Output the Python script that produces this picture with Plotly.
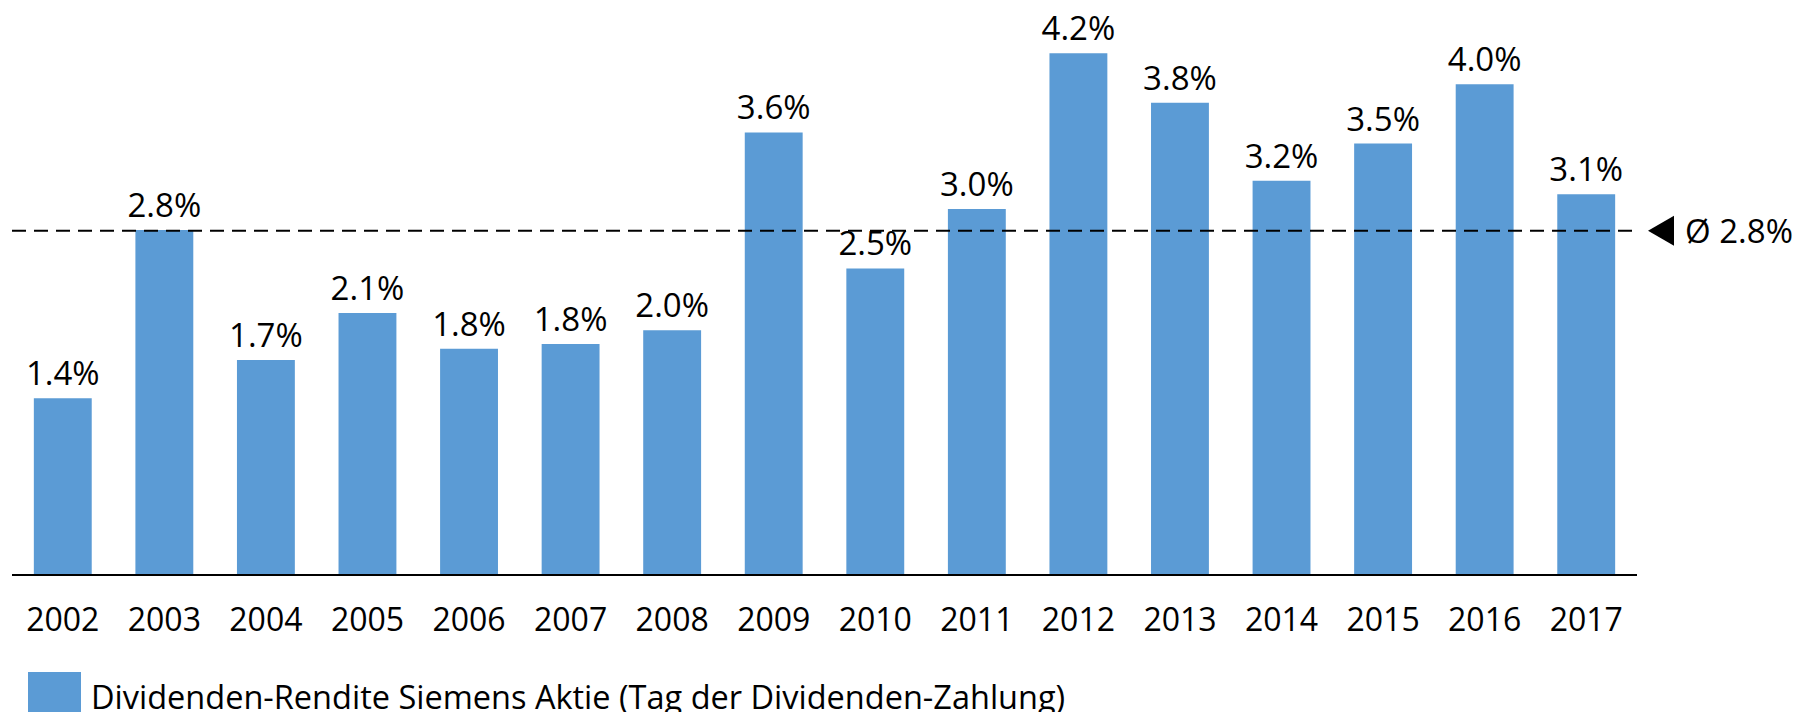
import numpy as np
import plotly.graph_objects as go

years = ["2002", "2003", "2004", "2005", "2006", "2007", "2008", "2009",
         "2010", "2011", "2012", "2013", "2014", "2015", "2016", "2017"]
yield_pct = [1.42, 2.78, 1.73, 2.11, 1.82, 1.86, 1.97, 3.57,
             2.47, 2.95, 4.21, 3.81, 3.18, 3.48, 3.96, 3.07]
labels = ["1.4%", "2.8%", "1.7%", "2.1%", "1.8%", "1.8%", "2.0%", "3.6%",
          "2.5%", "3.0%", "4.2%", "3.8%", "3.2%", "3.5%", "4.0%", "3.1%"]
series_name = "Dividenden-Rendite Siemens Aktie (Tag der Dividenden-Zahlung)"

avg = float(np.mean(yield_pct))

# page is 1813x712; the html body has an 8px margin
OFF = 8
PAGE_W, PAGE_H = 1813, 712
W, H = PAGE_W - OFF, PAGE_H - OFF

# plot area in page pixels
PL, PR, PT, PB = 12, 1637, 10, 574
ml = PL - OFF
mr = PAGE_W - PR
mt = PT - OFF
mb = PAGE_H - PB
plot_w = PR - PL
plot_h = PB - PT
px_per_unit = 123.7
ymax = plot_h / px_per_unit

BLUE = "#5B9BD5"
FONT = "Open Sans"

fig = go.Figure()
fig.add_trace(go.Bar(
    x=years, y=yield_pct, text=labels, textposition="outside",
    textfont=dict(family=FONT, size=33, color="black"),
    constraintext="none", cliponaxis=False,
    marker=dict(color=BLUE, line=dict(width=0)),
    showlegend=False, name=series_name, hoverinfo="skip",
))

def px_x(p):
    return (p - PL) / plot_w

def px_y(p):
    return (PB - p) / plot_h

# average dashed line
fig.add_shape(type="line", xref="paper", yref="y", x0=0, x1=1, y0=avg, y1=avg,
              line=dict(color="black", width=2, dash="14px,8px"), layer="above")

# triangle marker
dy = 15 / px_per_unit
tx0, tx1 = px_x(1648), px_x(1674)
fig.add_shape(type="path", xref="paper", yref="y",
              path=f"M {tx1} {avg + dy} L {tx0} {avg} L {tx1} {avg - dy} Z",
              fillcolor="black", line=dict(width=0))
fig.add_annotation(xref="paper", yref="y", x=px_x(1683), y=avg,
                   text=f"Ø {avg:.1f}%", showarrow=False, xanchor="left", yanchor="middle",
                   font=dict(family=FONT, size=33, color="black"))

# legend (manual)
fig.add_shape(type="rect", xref="paper", yref="paper",
              x0=px_x(28), x1=px_x(81), y0=px_y(730), y1=px_y(672),
              fillcolor=BLUE, line=dict(width=0))
fig.add_annotation(xref="paper", yref="paper", x=px_x(89), y=px_y(696),
                   text=series_name, showarrow=False, xanchor="left", yanchor="middle",
                   font=dict(family=FONT, size=32.5, color="black"))

fig.update_layout(
    width=W, height=H,
    margin=dict(l=ml, r=mr, t=mt, b=mb, pad=0),
    paper_bgcolor="white", plot_bgcolor="white",
    bargap=0.43,
    font=dict(family=FONT, color="black"),
    xaxis=dict(type="category", showline=True, linecolor="black", linewidth=2,
               showgrid=False, zeroline=False, ticks="", ticklabelstandoff=17,
               tickfont=dict(family=FONT, size=32, color="black")),
    yaxis=dict(visible=False, range=[0, ymax], showgrid=False, zeroline=False),
)

fig.write_html("out.html")
